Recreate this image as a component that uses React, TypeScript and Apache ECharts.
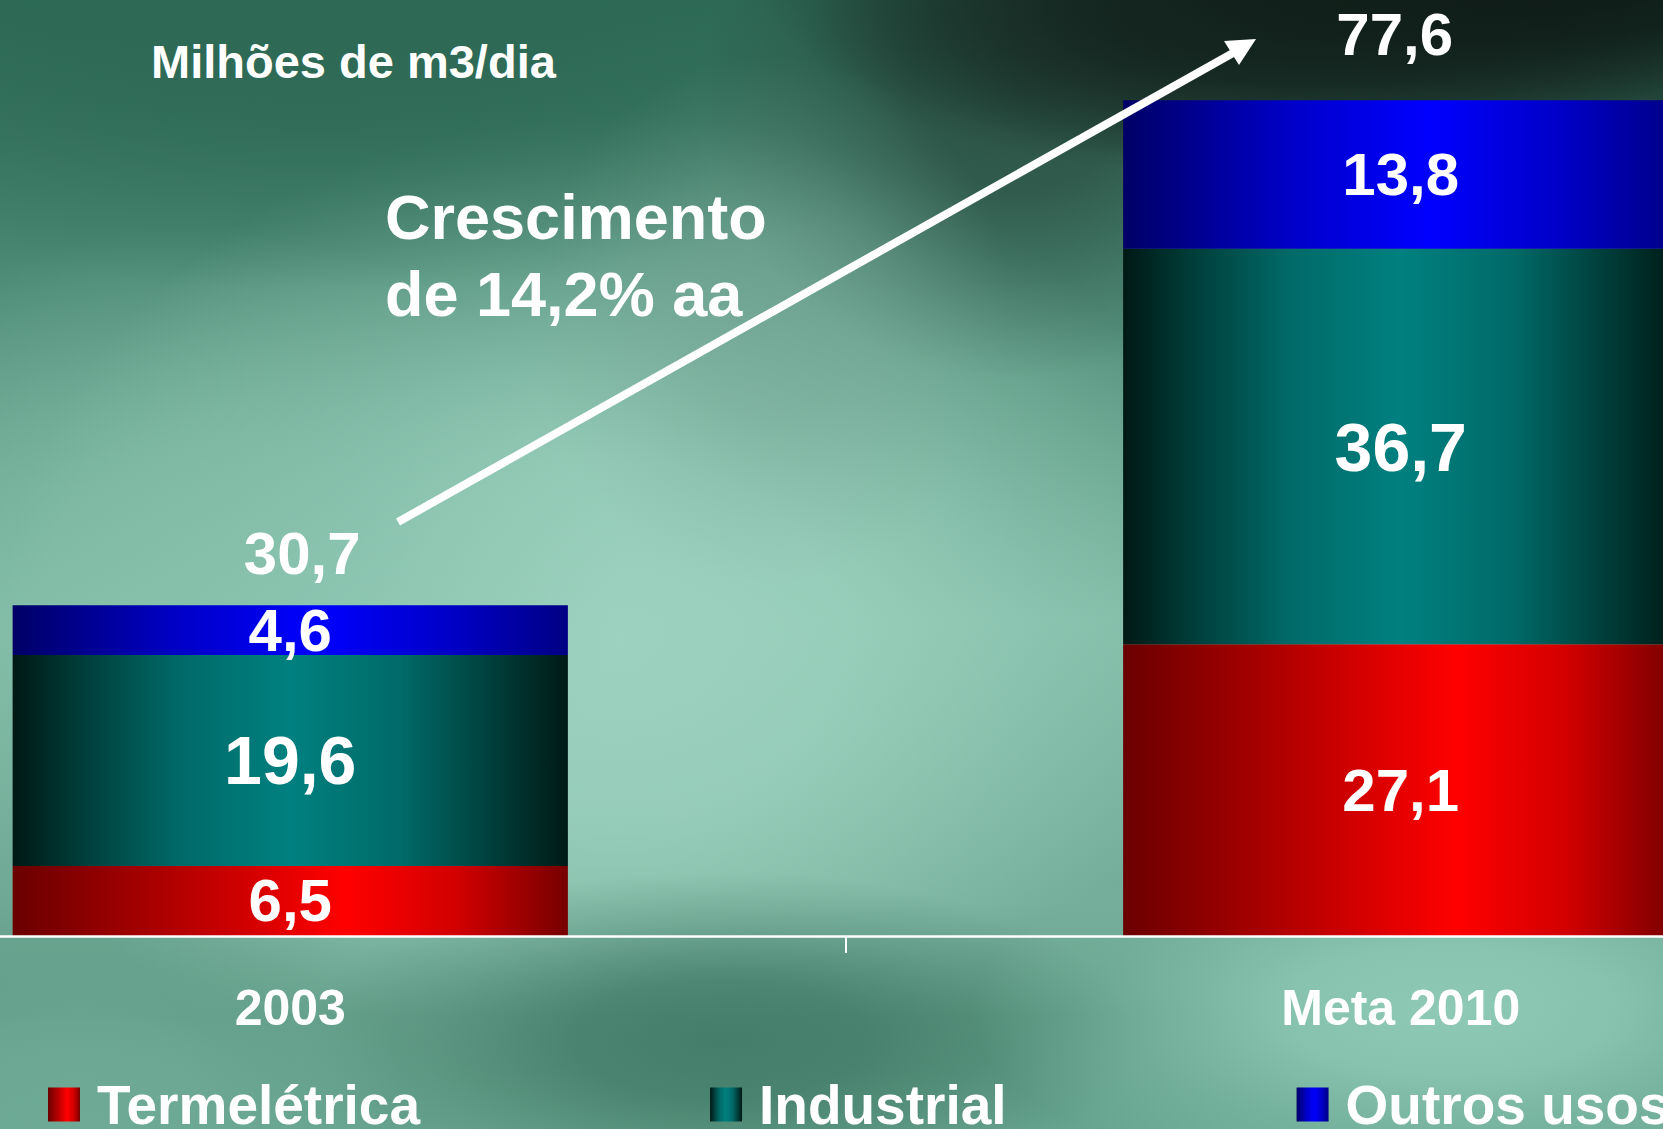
import React, { useEffect, useRef } from 'react';
import * as echarts from 'echarts';

const categories = ['2003', 'Meta 2010'];
const seriesNames = ['Termelétrica', 'Industrial', 'Outros usos'];
const termeletrica = [6.5, 27.1];
const industrial = [19.6, 36.7];
const outrosUsos = [4.6, 13.8];
const totals = [30.7, 77.6];
const unitTitle = 'Milhões de m3/dia';
const growthNote = 'Crescimento\nde 14,2% aa';

const FONT = '"Liberation Sans", Arial, Helvetica, sans-serif';
const fmt = (v: number) => v.toFixed(1).replace('.', ',');

// The chart canvas is wider than the page so that each category band is as wide as in the reference.
const OX = 265;
const CHART_W = 2221;

const hGrad = (stops: [number, string][]) => ({
  type: 'linear', x: 0, y: 0, x2: 1, y2: 0,
  colorStops: stops.map(([offset, color]) => ({ offset, color })),
});

const redGrad = hGrad([[0, '#6a0000'], [0.25, '#a80000'], [0.6, '#ff0000'], [0.8, '#d20000'], [1, '#760000']]);
const tealGrad = hGrad([[0, '#001814'], [0.12, '#003c38'], [0.3, '#006a68'], [0.5, '#008080'], [0.7, '#006a68'], [0.88, '#003a36'], [1, '#001a16']]);
const blueGrad = hGrad([[0, '#000066'], [0.3, '#0000c8'], [0.55, '#0000ff'], [0.8, '#0000c4'], [1, '#000084']]);

const totalLabelDistance = [21, 35];
const totalLabelShift = [12, -6];

const hexA = (hex: string, a: number) => {
  const n = parseInt(hex.slice(1), 16);
  return `rgba(${(n >> 16) & 255},${(n >> 8) & 255},${n & 255},${a})`;
};

const blob = (cx: number, cy: number, r: number, sy: number, color: string, alpha = 1) => ({
  type: 'circle',
  x: cx + OX, y: cy, scaleY: sy,
  z: -10,
  silent: true,
  shape: { cx: 0, cy: 0, r },
  style: {
    fill: {
      type: 'radial', x: 0.5, y: 0.5, r: 0.5,
      colorStops: [
        { offset: 0, color: hexA(color, alpha) },
        { offset: 0.35, color: hexA(color, alpha * 0.85) },
        { offset: 0.7, color: hexA(color, alpha * 0.35) },
        { offset: 1, color: hexA(color, 0) },
      ],
    },
  },
});

const background = [
  {
    type: 'rect', z: -11, silent: true,
    shape: { x: 0, y: 0, width: CHART_W, height: 1129 },
    style: {
      fill: {
        type: 'linear', x: 0, y: 0, x2: 0, y2: 1,
        colorStops: [
          { offset: 0, color: '#2f6c58' },
          { offset: 0.25, color: '#4e8b76' },
          { offset: 0.55, color: '#80bba6' },
          { offset: 0.8, color: '#6fa995' },
          { offset: 0.9, color: '#5a9681' },
          { offset: 1, color: '#68a590' },
        ],
      },
    },
  },
  blob(620, 640, 620, 0.85, '#9dd3c0', 0.95),
  blob(200, 560, 420, 0.8, '#86c0ab', 0.7),
  blob(320, 10, 800, 0.35, '#2c6853', 0.9),
  blob(1020, 90, 320, 0.9, '#244238', 0.7),
  blob(1500, -40, 760, 0.3, '#0b1511', 1),
  blob(1300, 30, 500, 0.3, '#121f1a', 0.8),
  blob(770, 320, 240, 1.1, '#76a595', 0.5),
  blob(720, 1040, 420, 0.4, '#3a735f', 0.8),
  blob(1450, 1010, 480, 0.38, '#90ccb7', 0.95),
  blob(80, 1070, 320, 0.45, '#72ae99', 0.7),
];

const annotations = [
  {
    type: 'text', z: 100, x: 385 + OX, y: 178,
    style: {
      text: growthNote, fill: '#ffffff',
      fontSize: 63, fontWeight: 'bold', fontFamily: FONT,
      lineHeight: 77, verticalAlign: 'top', align: 'left',
    },
  },
  {
    type: 'line', z: 100,
    shape: { x1: 398 + OX, y1: 522, x2: 1233 + OX, y2: 53 },
    style: { stroke: '#ffffff', lineWidth: 8 },
  },
  {
    type: 'polygon', z: 100,
    shape: { points: [[1256 + OX, 39], [1224 + OX, 41], [1239 + OX, 65]] },
    style: { fill: '#ffffff' },
  },
];

const barLabel = (size: number) => ({
  show: true,
  position: 'inside',
  color: '#ffffff',
  fontSize: size,
  fontWeight: 'bold',
  fontFamily: FONT,
  lineHeight: size,
  formatter: (p: any) => fmt(p.value),
});

const option: any = {
  animation: false,
  backgroundColor: '#5e9a86',
  title: {
    text: unitTitle, left: 151 + OX, top: 38, padding: 0,
    textStyle: { color: '#ffffff', fontSize: 47, fontWeight: 'bold', fontFamily: FONT, lineHeight: 47 },
  },
  legend: {
    data: seriesNames, left: 48 + OX, top: 1077, padding: 0,
    icon: 'rect', itemWidth: 32, itemHeight: 34, itemGap: 290,
    textStyle: { color: '#ffffff', fontSize: 55, fontWeight: 'bold', fontFamily: FONT, lineHeight: 41, padding: [0, 0, 0, 12] },
  },
  grid: { left: 0, right: 0, top: 74.4, bottom: 193 },
  xAxis: {
    type: 'category', data: categories, z: 5,
    axisLine: { lineStyle: { color: '#ffffff', width: 2.5 } },
    axisTick: { show: true, length: 17, lineStyle: { color: '#ffffff', width: 2 } },
    axisLabel: { color: '#ffffff', fontSize: 50, fontWeight: 'bold', fontFamily: FONT, margin: 47, lineHeight: 50 },
  },
  yAxis: { type: 'value', min: 0, max: 80, show: false },
  series: [
    { name: seriesNames[0], type: 'bar', stack: 'total', barWidth: '50%', data: termeletrica, itemStyle: { color: redGrad }, label: barLabel(60) },
    { name: seriesNames[1], type: 'bar', stack: 'total', barWidth: '50%', data: industrial, itemStyle: { color: tealGrad }, label: barLabel(68) },
    { name: seriesNames[2], type: 'bar', stack: 'total', barWidth: '50%', data: outrosUsos, itemStyle: { color: blueGrad }, label: barLabel(60) },
    {
      name: 'Total', type: 'scatter', symbolSize: 1, z: 10,
      itemStyle: { color: 'rgba(0,0,0,0)', opacity: 1 },
      data: totals.map((v, i) => ({
        value: v,
        label: { distance: totalLabelDistance[i], offset: [totalLabelShift[i], 0] },
      })),
      label: {
        show: true, position: 'top', color: '#ffffff', opacity: 1, fontSize: 60, fontWeight: 'bold',
        fontFamily: FONT, lineHeight: 60, formatter: (p: any) => fmt(p.value),
      },
    },
  ],
  graphic: { elements: [...background, ...annotations] },
};

export default function App() {
  const ref = useRef<HTMLDivElement>(null);
  useEffect(() => {
    const chart = echarts.init(ref.current!, null, { renderer: 'svg' });
    chart.setOption(option);
    return () => chart.dispose();
  }, []);
  return (
    <div style={{ position: 'fixed', left: 0, top: 0, width: 1663, height: 1129, overflow: 'hidden' }}>
      <div ref={ref} style={{ position: 'absolute', left: -OX, top: 0, width: CHART_W, height: 1129 }} />
    </div>
  );
}
